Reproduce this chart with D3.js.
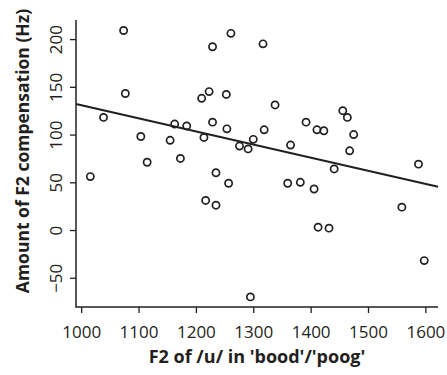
<!DOCTYPE html>
<html><head><meta charset="utf-8">
<script src="https://cdnjs.cloudflare.com/ajax/libs/d3/7.8.5/d3.min.js"></script>
<style>body{margin:0;background:#fff}svg{display:block}text{font-family:"Open Sans",sans-serif;fill:#231f20}</style>
</head><body>
<svg id="c" width="447" height="375"></svg>
<script>
// F2 of /u/ (Hz)
const f2Values = [1016,1039,1074,1077,1104,1115,1155,1163,1173,1184,1210,1214,1217,1223,1229,1229,1235,1235,1253,1254,1257,1261,1276,1291,1295,1300,1317,1319,1338,1360,1365,1382,1392,1406,1411,1413,1423,1432,1441,1456,1464,1468,1475,1559,1588,1598];
// Amount of F2 compensation (Hz)
const compValues = [56,118,209,143,98,71,94,111,75,109,138,97,31,145,192,113,60,26,142,106,49,206,88,85,-70,95,195,105,131,49,89,50,113,43,105,3,104,2,64,125,118,83,100,24,69,-32];
// fitted regression line endpoints (as drawn)
const fitX = [991, 1622];
const fitY = [132, 45.4];
const xTicks = [1000,1100,1200,1300,1400,1500,1600];
const yTicks = [-50,0,50,100,150,200];
const xDomain = [991, 1622];
const yDomain = [-80.6, 220];
const xTitle = "F2 of /u/ in 'bood'/'poog'";
const yTitle = "Amount of F2 compensation (Hz)";

const svg = d3.select("#c");
const L = 76, R = 438, T = 20, B = 307;
const x = d3.scaleLinear().domain(xDomain).range([L, R]);
const y = d3.scaleLinear().domain(yDomain).range([B, T]);
const ink = "#231f20";

// L-shaped box
svg.append("path").attr("d", `M${L},${T}V${B}H${R}`).attr("fill","none").attr("stroke",ink).attr("stroke-width",1.5);

const xa = svg.append("g").attr("transform",`translate(0,${B})`)
  .call(d3.axisBottom(x).tickValues(xTicks).tickSize(6).tickPadding(5).tickFormat(d3.format("d")));
xa.select(".domain").remove();
xa.selectAll("line").attr("stroke",ink).attr("stroke-width",1.3);
xa.selectAll("text").attr("font-size",17).attr("fill",ink).attr("dy",null).attr("y",null)
  .attr("transform","translate(0,31)");

const ya = svg.append("g").attr("transform",`translate(${L},0)`)
  .call(d3.axisLeft(y).tickValues(yTicks).tickSize(6).tickFormat(d => d < 0 ? "\u2212" + Math.abs(d) : String(d)));
ya.select(".domain").remove();
ya.selectAll("line").attr("stroke",ink).attr("stroke-width",1.3);
ya.selectAll("text").attr("font-size",17).attr("fill",ink)
  .attr("x",null).attr("dy",null).attr("text-anchor","middle")
  .attr("transform","translate(-14.5,0) rotate(-90)");

// regression line
svg.append("line").attr("x1",x(fitX[0])).attr("y1",y(fitY[0])).attr("x2",x(fitX[1])).attr("y2",y(fitY[1]))
  .attr("stroke",ink).attr("stroke-width",2);

// points
svg.append("g").selectAll("circle").data(f2Values.map((v,i)=>[v,compValues[i]])).join("circle")
  .attr("cx",d=>x(d[0])).attr("cy",d=>y(d[1])).attr("r",3.6)
  .attr("fill","none").attr("stroke",ink).attr("stroke-width",1.7);

svg.append("text").attr("x",(L+R)/2).attr("y",363).attr("text-anchor","middle")
  .attr("font-size",18).attr("font-weight","bold").text(xTitle);
svg.append("text").attr("transform","translate(29,151) rotate(-90)").attr("text-anchor","middle")
  .attr("font-size",17.5).attr("font-weight","bold").text(yTitle);
</script>
</body></html>
